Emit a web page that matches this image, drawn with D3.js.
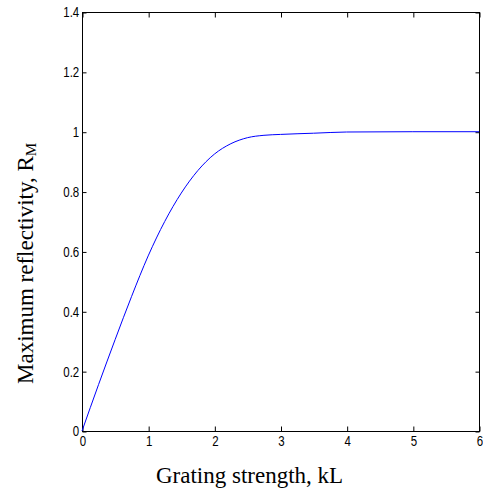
<!DOCTYPE html>
<html>
<head>
<meta charset="utf-8">
<script src="https://cdn.jsdelivr.net/npm/d3@7"></script>
<style>
  body { margin: 0; background: #fff; }
  svg { display: block; }
  .tick text { font-family: "Liberation Sans", Arial, sans-serif; font-size: 14px; fill: #000; }
  .title { font-family: "Liberation Serif", "Times New Roman", serif; font-size: 23px; fill: #000; }
</style>
</head>
<body>
<svg id="chart" width="483" height="490"></svg>
<script>
// Data
const kL = [0, 0.25, 0.5, 0.75, 1.0, 1.25, 1.5, 1.75, 2.0, 2.25, 2.5, 2.75, 3.0, 3.5, 4.0, 5, 6];
const reflectivity = [0, 0.155, 0.305, 0.45, 0.585, 0.70, 0.795, 0.87, 0.925, 0.960, 0.980, 0.988, 0.991, 0.995, 0.999, 1.0, 1.0];
const xTicks = [0, 1, 2, 3, 4, 5, 6];
const yTicks = [0, 0.2, 0.4, 0.6, 0.8, 1, 1.2, 1.4];
const xTitle = "Grating strength, kL";
const yTitle = "Maximum reflectivity, R";
const yTitleSub = "M";

const svg = d3.select("#chart");
const mLeft = 82, mRight = 479, mTop = 12, mBottom = 431;

const x = d3.scaleLinear().domain([0, 6]).range([mLeft, mRight]);
const y = d3.scaleLinear().domain([0, 1.4]).range([mBottom, mTop]);

// Box
svg.append("rect")
  .attr("x", mLeft + 0.5).attr("y", mTop + 0.5)
  .attr("width", mRight - mLeft).attr("height", mBottom - mTop)
  .attr("fill", "none").attr("stroke", "#000").attr("stroke-width", 1);

// Bottom axis
const gx = svg.append("g").attr("transform", `translate(0.5,${mBottom + 0.5})`)
  .call(d3.axisBottom(x).tickValues(xTicks).tickSize(-5).tickPadding(5).tickFormat(d3.format("d")));
gx.select(".domain").remove();
gx.selectAll(".tick line").attr("stroke", "#000");
gx.selectAll(".tick text").attr("transform", "scale(0.82,1)");

// Top axis ticks
const gxt = svg.append("g").attr("transform", `translate(0.5,${mTop + 0.5})`)
  .call(d3.axisTop(x).tickValues(xTicks).tickSize(-5).tickFormat(""));
gxt.select(".domain").remove();

// Left axis
const gy = svg.append("g").attr("transform", `translate(${mLeft + 0.5},0.5)`)
  .call(d3.axisLeft(y).tickValues(yTicks).tickSize(-4).tickPadding(4).tickFormat(d => d3.format("~g")(d)));
gy.select(".domain").remove();
gy.selectAll(".tick line").attr("stroke", "#000");
gy.selectAll(".tick text").attr("transform", "scale(0.82,1)");

// Right axis ticks
const gyr = svg.append("g").attr("transform", `translate(${mRight + 0.5},0.5)`)
  .call(d3.axisRight(y).tickValues(yTicks).tickSize(-4).tickFormat(""));
gyr.select(".domain").remove();

// Curve
const data = kL.map((k, i) => [k, reflectivity[i]]);
svg.append("path")
  .datum(data)
  .attr("fill", "none")
  .attr("stroke", "#0000ff")
  .attr("stroke-width", 1)
  .attr("d", d3.line().x(d => x(d[0])).y(d => y(d[1])).curve(d3.curveMonotoneX));

// Titles
svg.append("text").attr("class", "title")
  .attr("x", 156).attr("y", 483)
  .text(xTitle);

const yt = svg.append("text").attr("class", "title")
  .attr("transform", "translate(33,384) rotate(-90)")
  .attr("x", 0).attr("y", 0);
yt.append("tspan").text(yTitle);
yt.append("tspan").attr("font-size", 15).attr("dy", 3).text(yTitleSub);
</script>
</body>
</html>
